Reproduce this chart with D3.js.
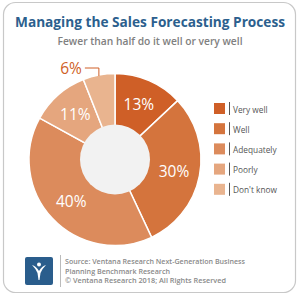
<!DOCTYPE html>
<html>
<head>
<meta charset="utf-8">
<script src="https://cdn.jsdelivr.net/npm/d3@7"></script>
<style>
  body { margin: 0; background: #fff; }
  svg { display: block; font-family: "Open Sans", sans-serif; }
</style>
</head>
<body>
<div id="chart"></div>
<script>
const categories = ['Very well', 'Well', 'Adequately', 'Poorly', "Don't know"];
const values = [13, 30, 40, 11, 6];
const colors = ['#cf5f27', '#d4743d', '#dc8b5c', '#e5a67e', '#e9b48f'];
const sourceLines = [
  'Source: Ventana Research Next-Generation Business',
  'Planning Benchmark Research',
  '\u00a9 Ventana Research 2018; All Rights Reserved'
];
const sourceWidths = [180, 105, 161];

const W = 300, H = 298;
const svg = d3.select('#chart').append('svg').attr('width', W).attr('height', H);

// frame
svg.append('rect').attr('x', 3.5).attr('y', 2.5).attr('width', 292).attr('height', 290)
  .attr('rx', 12).attr('fill', '#fff').attr('stroke', '#c8c8c8').attr('stroke-width', 1.2);

svg.append('text').attr('x', 150).attr('y', 27).attr('text-anchor', 'middle')
  .style('font-size', '14px').style('font-weight', 700).style('fill', '#2c5f8e')
  .attr('textLength', 270).attr('lengthAdjust', 'spacingAndGlyphs')
  .text('Managing the Sales Forecasting Process');
svg.append('text').attr('x', 150).attr('y', 45).attr('text-anchor', 'middle')
  .style('font-size', '11px').style('font-weight', 600).style('fill', '#808080')
  .attr('textLength', 185).attr('lengthAdjust', 'spacingAndGlyphs')
  .text('Fewer than half do it well or very well');

// donut
const cx = 115, cy = 159.5, R = 86, r0 = 35;
const pie = d3.pie().sort(null).value(d => d)(values);
const arc = d3.arc().innerRadius(0).outerRadius(R);
const g = svg.append('g').attr('transform', `translate(${cx},${cy})`);
g.selectAll('path').data(pie).enter().append('path')
  .attr('d', arc).attr('fill', (_, i) => colors[i])
  .attr('stroke', '#fff').attr('stroke-width', 1.5);
g.append('circle').attr('r', r0).attr('fill', '#f2f2f2');

const labelArc = d3.arc().innerRadius(60).outerRadius(60);
g.selectAll('.lbl').data(pie.filter(d => d.data >= 10)).enter().append('text')
  .attr('transform', d => `translate(${labelArc.centroid(d)})`)
  .attr('text-anchor', 'middle').attr('dominant-baseline', 'central')
  .style('font-size', '15.5px').style('fill', '#fff')
  .text(d => d.data + '%');

// small slice label outside with leader
const small = pie[4];
const mid = (small.startAngle + small.endAngle) / 2;
const px = Math.sin(mid) * R, py = -Math.cos(mid) * R;
g.append('path')
  .attr('d', `M${px - 14},${-R - 5.5}H${px}V${py + 1}`)
  .attr('fill', 'none').attr('stroke', '#cf5f27').attr('stroke-width', 1);
g.append('text').attr('x', px - 17).attr('y', -R - 5.5).attr('text-anchor', 'end')
  .attr('dominant-baseline', 'central')
  .style('font-size', '15.5px').style('fill', '#cf5f27').text(small.data + '%');

// legend
const legend = svg.append('g').attr('transform', 'translate(214,103)');
const ly = d3.scaleBand().domain(categories).range([0, 101]).paddingInner(0);
categories.forEach((c, i) => {
  const row = legend.append('g').attr('transform', `translate(0,${ly(c)})`);
  row.append('rect').attr('width', 11).attr('height', 11).attr('fill', colors[i]);
  row.append('line').attr('x1', 15.5).attr('x2', 15.5).attr('y1', -1).attr('y2', 12)
    .attr('stroke', '#555').attr('stroke-width', 1);
  row.append('text').attr('x', 19).attr('y', 6).attr('dominant-baseline', 'central')
    .style('font-size', '8.3px').style('fill', '#555').text(c);
});

// footer logo
const logo = svg.append('g').attr('transform', 'translate(25,257)');
logo.append('rect').attr('width', 28).attr('height', 28).attr('rx', 2).attr('fill', '#2a5d8c');
logo.append('path').attr('d', 'M7,8 Q11,9 14,14 Q17,9 21,8 Q17,12 15.5,16 L14.5,23 L13.5,23 L12.5,16 Q11,12 7,8Z')
  .attr('fill', '#fff');
logo.append('circle').attr('cx', 14).attr('cy', 7.5).attr('r', 2).attr('fill', '#fff');
svg.append('line').attr('x1', 60.5).attr('x2', 60.5).attr('y1', 255).attr('y2', 287)
  .attr('stroke', '#bbb').attr('stroke-width', 1);
svg.append('g').selectAll('text').data(sourceLines).enter().append('text')
  .attr('x', 65).attr('y', (_, i) => 264 + i * 9.5)
  .attr('textLength', (_, i) => sourceWidths[i]).attr('lengthAdjust', 'spacingAndGlyphs')
  .style('font-size', '7.6px').style('font-weight', 600).style('fill', '#8a8a8a')
  .text(d => d);
</script>
</body>
</html>
